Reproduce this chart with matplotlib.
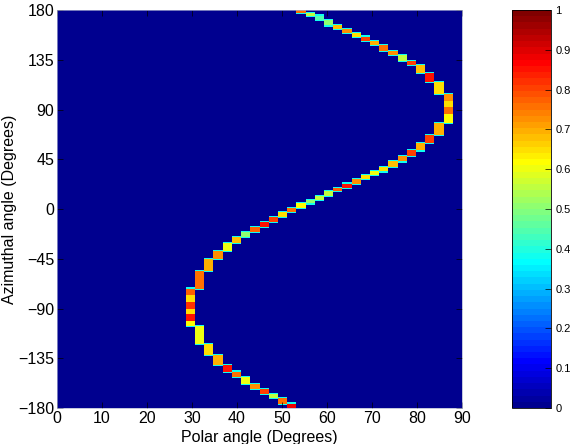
import numpy as np
import matplotlib
matplotlib.use("Agg")
import matplotlib.pyplot as plt
from matplotlib.colors import ListedColormap

# ---- data ----
# ridge: polar angle (deg) of each step, lower azimuth bound of the step (deg), intensity
ridge_polar = [54, 56, 58, 60, 62.5, 64.5, 66.5, 68.5, 70.5, 72.5, 74.5, 76.5, 78.5, 81, 83, 85,
               87, 87, 87, 87, 85, 83, 81, 78.5, 76.5, 74.5, 72.5, 70.5, 68.5, 66.5, 64.5, 62.5,
               60, 58, 56, 54, 52, 50, 48, 46, 44, 42, 40, 38, 36, 34, 32,
               30, 30, 30, 30, 30, 30, 32, 34, 36, 38, 40, 42, 44, 46, 48, 50, 52]
ridge_az_end = [177, 175, 171, 166, 163, 159, 156, 152, 148, 143, 139, 134, 130, 123, 115, 104,
                98, 92, 86, 78, 67, 60, 53, 48, 43, 38, 34, 31, 27, 23, 19, 16,
                12, 8, 5, 1, -3, -7, -12, -16, -21, -25, -31, -38, -45, -56, -72,
                -78, -84, -90, -95, -101, -106, -122, -132, -141, -147, -152, -158, -163, -167, -171, -176, -180]
ridge_level = [0.75, 0.55, 0.45, 0.50, 0.68, 0.72, 0.65, 0.80, 0.70, 0.75, 0.72, 0.55, 0.80, 0.68, 0.85, 0.65,
               0.72, 0.65, 0.75, 0.62, 0.70, 0.80, 0.70, 0.80, 0.72, 0.68, 0.65, 0.60, 0.65, 0.72, 0.85, 0.78,
               0.55, 0.55, 0.50, 0.62, 0.75, 0.65, 0.80, 0.85, 0.78, 0.50, 0.68, 0.60, 0.72, 0.70, 0.75,
               0.78, 0.65, 0.82, 0.65, 0.85, 0.62, 0.60, 0.65, 0.70, 0.85, 0.75, 0.60, 0.72, 0.80, 0.55, 0.75, 0.88]
# faint edge value seen above/below each step
fringe_level = 0.38

x_ticks = [0, 10, 20, 30, 40, 50, 60, 70, 80, 90]
y_ticks = [-180, -135, -90, -45, 0, 45, 90, 135, 180]
cbar_ticks = [0, 0.1, 0.2, 0.3, 0.4, 0.5, 0.6, 0.7, 0.8, 0.9, 1]

n_polar = 44
n_az = 360

# ---- MATLAB-style jet(64) colormap ----
def matlab_jet(m=64):
    n = int(np.ceil(m / 4))
    u = np.concatenate([np.arange(1, n + 1) / n, np.ones(n - 1), np.arange(n, 0, -1) / n])
    g = int(np.ceil(n / 2)) - (1 if m % 4 == 1 else 0) + np.arange(1, len(u) + 1)
    r = g + n
    b = g - n
    J = np.zeros((m, 3))
    J[r[r <= m] - 1, 0] = u[r <= m]
    J[g[g <= m] - 1, 1] = u[g <= m]
    J[b[b > 0] - 1, 2] = u[b > 0]
    return ListedColormap(J)

cmap = matlab_jet(64)

# ---- build grid ----
polar_edges = np.linspace(0, 90, n_polar + 1)
az_edges = np.linspace(-180, 180, n_az + 1)
az_centers = 0.5 * (az_edges[:-1] + az_edges[1:])
grid = np.zeros((n_az, n_polar))
fringe = np.zeros((n_az, n_polar))
az_start = 180
for p, a_end, lvl in zip(ridge_polar, ridge_az_end, ridge_level):
    col = np.searchsorted(polar_edges, p, side="right") - 1
    rows = np.where((az_centers <= az_start) & (az_centers > a_end))[0]
    grid[rows, col] = lvl
    for rr in (rows.min() - 1, rows.max() + 1):
        if 0 <= rr < n_az:
            fringe[rr, col] = fringe_level
    az_start = a_end
grid = np.where(grid > 0, grid, fringe)

plt.rcParams["font.family"] = ["Liberation Sans", "DejaVu Sans"]
fig = plt.figure(figsize=(5.8, 4.44), dpi=100)
ax = fig.add_axes([57 / 580, 1 - 408 / 444, 405 / 580, 398 / 444])
cax = fig.add_axes([512 / 580, 1 - 408 / 444, 39 / 580, 398 / 444])

mesh = ax.pcolormesh(polar_edges, az_edges, grid, cmap=cmap, vmin=0, vmax=1,
                     shading="flat", antialiased=False)
ax.set_xlim(0, 90)
ax.set_ylim(-180, 180)
ax.set_xticks(x_ticks)
ax.set_yticks(y_ticks)
ax.tick_params(direction="in", top=True, right=True, length=4, width=0.5,
               labelsize=11.5, pad=2)
for s in ax.spines.values():
    s.set_linewidth(0.5)
    s.set_color("#aab0d0")
ax.set_xlabel("Polar angle (Degrees)", fontsize=11.5, labelpad=3)
ax.set_ylabel("Azimuthal angle (Degrees)", fontsize=11.5, labelpad=1)

cb = fig.colorbar(mesh, cax=cax, ticks=cbar_ticks)
cb.ax.set_yticklabels([f"{t:g}" for t in cbar_ticks])
cb.ax.tick_params(direction="in", length=4, width=0.5, labelsize=8, pad=3)
cb.outline.set_linewidth(0.6)

fig.savefig("out.png", dpi=100)
